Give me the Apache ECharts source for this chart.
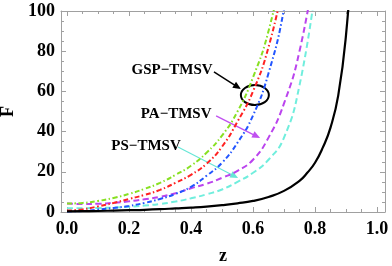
<!DOCTYPE html>
<html><head><meta charset="utf-8">
<script src="https://cdn.jsdelivr.net/npm/echarts@6/dist/echarts.min.js"></script>
<style>html,body{margin:0;padding:0;background:#fff}#c{width:392px;height:266px}</style>
</head><body><div id="c"></div><script>
// ---- data ----
const zCommon = [0,0.05,0.1,0.15,0.2,0.25,0.3,0.35,0.4,0.45,0.5,0.55,0.6,0.65,0.7,0.75,0.8];
const zBlack = [0,0.05,0.1,0.15,0.2,0.25,0.3,0.35,0.4,0.45,0.5,0.55,0.6,0.65,0.7,0.75,0.775,0.8,0.825,0.85,0.875,0.9,0.925];
const greenF  = [4.2,4.5,5.5,7,9,11.5,14.5,18.5,23,29.5,38,50,67,90,125];
const redF    = [0.7,1.3,2.8,4.5,6.5,8.5,11,14.5,18.5,24,32.5,45,60,82,115];
const blueF   = [0.3,0.5,1.2,2,3,4.5,6.5,9,12.5,18,24.5,34.5,48,69,101,150];
const purpleF = [4.2,4.0,4.1,4.6,5.3,6.3,7.6,9.3,11.8,14,17,20.5,26,37,54,80,122];
const cyanF   = [1.9,1.9,2.0,2.2,2.6,3.2,4.0,5.2,6.8,8.8,11.2,15,19.5,26,37,63,110];
const blackF  = [0.3,0.4,0.5,0.7,0.9,1.1,1.4,1.8,2.2,2.7,3.4,4.3,5.5,7.5,10.5,15.5,19.5,24.5,32,42,58,88,140];
const xMajor = [0,0.2,0.4,0.6,0.8,1.0];
const xMinor = [0.05,0.1,0.15,0.25,0.3,0.35,0.45,0.5,0.55,0.65,0.7,0.75,0.85,0.9,0.95];
const labels = ['GSP\u2212TMSV','PA\u2212TMSV','PS\u2212TMSV'];

// ---- annotation anchors (data coordinates) ----
const ann = {
  gspText:[0.339,70.6], gspFrom:[0.474,69.7], gspTo:[0.561,61.2], ellipse:[0.606,58.2],
  paText:[0.352,48.8], paFrom:[0.481,47.8], paTo:[0.623,36.8],
  psText:[0.255,32.8], psFrom:[0.358,32.3], psTo:[0.552,16.9]
};

const zip = (xs, ys) => ys.map((v,i)=>[xs[i], v]);
const font = '"Liberation Serif","DejaVu Serif",serif';
const frame = '#a0a0a0';
const XMIN = -0.0194, XMAX = 1.0258;

function xAx(pos, vals, len, showLabel, showLine){
  return {type:'value', min:XMIN, max:XMAX, position:pos,
    axisLine:{show:showLine, onZero:false, lineStyle:{color:frame,width:1}},
    axisTick:{show:true, inside:true, length:len, customValues:vals, lineStyle:{color:frame}},
    axisLabel:{show:showLabel, customValues:vals, margin:8, formatter:v=>v.toFixed(1),
      color:'#000', fontFamily:font, fontWeight:'bold', fontSize:18},
    splitLine:{show:false}};
}
const xAxes = [xAx('bottom', xMajor, 5, true, true), xAx('bottom', xMinor, 3, false, false),
               xAx('top', xMajor, 5, false, true), xAx('top', xMinor, 3, false, false)];
xAxes[0].name = 'z'; xAxes[0].nameLocation='middle'; xAxes[0].nameGap=35;
xAxes[0].nameTextStyle = {fontFamily:font, fontWeight:'bold', fontSize:18, color:'#000'};

function yAx(pos, showLabel){
  return {type:'value', min:0, max:100, interval:20, position:pos,
    axisLine:{show:true, onZero:false, lineStyle:{color:frame,width:1}},
    axisTick:{show:true, inside:true, length:5, lineStyle:{color:frame}},
    minorTick:{show:true, splitNumber:4, length:3, lineStyle:{color:frame}},
    axisLabel:{show:showLabel, margin:6, color:'#000', fontFamily:font, fontWeight:'bold', fontSize:18},
    splitLine:{show:false}};
}
const yAxes = [yAx('left', true), yAx('right', false)];
yAxes[0].name='F'; yAxes[0].nameLocation='middle'; yAxes[0].nameGap=43; yAxes[0].nameRotate=90;
yAxes[0].nameTextStyle = {fontFamily:font, fontWeight:'bold', fontSize:18, color:'#000'};

function ser(xs, ys, color, type, w){
  return {type:'line', xAxisIndex:0, yAxisIndex:0, data:zip(xs,ys), showSymbol:false, symbol:'none',
    smooth:0.5, clip:true, silent:true,
    lineStyle:{color, width:w, type}};
}
const dotDash = [5,2.5,1.5,2.5];
const option = {
  animation:false,
  grid:{left:61, right:7, top:11, bottom:54, containLabel:false, outerBoundsMode:'none'},
  xAxis:xAxes, yAxis:yAxes,
  series:[
    ser(zCommon, cyanF, '#70eedd', [6,3.5], 2),
    ser(zCommon, purpleF, '#bb44ee', [6,3.5], 2),
    ser(zCommon, blueF, '#2255ff', dotDash, 2),
    ser(zCommon, redF, '#ff2222', dotDash, 2),
    ser(zCommon, greenF, '#88e022', dotDash, 2),
    ser(zBlack, blackF, '#000000', 'solid', 2.2)
  ]
};
const chart = echarts.init(document.getElementById('c'), null, {renderer:'canvas'});
chart.setOption(option);

const P = p => chart.convertToPixel({xAxisIndex:0, yAxisIndex:0}, p);
function arrow(from, to, color, w, hl, hw){
  const a = P(from), b = P(to);
  const dx=b[0]-a[0], dy=b[1]-a[1], L=Math.hypot(dx,dy), ux=dx/L, uy=dy/L, nx=-uy, ny=ux;
  const bx=b[0]-ux*hl, by=b[1]-uy*hl;
  return [
    {type:'line', shape:{x1:a[0],y1:a[1],x2:bx+ux*2,y2:by+uy*2}, style:{stroke:color, lineWidth:w}, silent:true},
    {type:'polygon', shape:{points:[[b[0],b[1]],[bx+nx*hw,by+ny*hw],[bx-nx*hw,by-ny*hw]]}, style:{fill:color}, silent:true}
  ];
}
function txt(p, s){
  const q = P(p);
  return {type:'text', x:q[0], y:q[1], silent:true,
    style:{text:s, x:0, y:0, font:'bold 15px '+font, fill:'#000', align:'center', verticalAlign:'middle',
      textAlign:'center', textVerticalAlign:'middle'}};
}
const ec = P(ann.ellipse);
const graphics = [
  txt(ann.gspText, labels[0]), txt(ann.paText, labels[1]), txt(ann.psText, labels[2]),
  ...arrow(ann.gspFrom, ann.gspTo, '#000', 1.5, 8, 3.5),
  ...arrow(ann.paFrom, ann.paTo, '#c050f0', 1.3, 8, 3.5),
  ...arrow(ann.psFrom, ann.psTo, '#66e6d6', 1.1, 8, 3.5),
  {type:'ellipse', shape:{cx:ec[0], cy:ec[1], rx:14, ry:10}, style:{stroke:'#000', lineWidth:2, fill:null}, silent:true}
];
chart.setOption({graphic:{elements:graphics}});
</script></body></html>
